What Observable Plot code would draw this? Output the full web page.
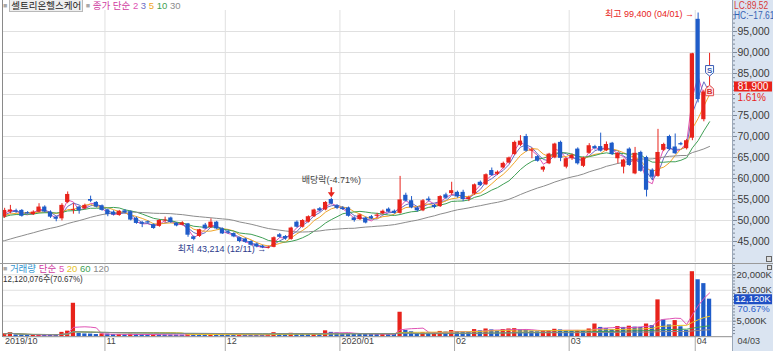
<!DOCTYPE html>
<html>
<head>
<meta charset="utf-8">
<script src="https://cdn.jsdelivr.net/npm/d3@7"></script>
<script src="https://cdn.jsdelivr.net/npm/@observablehq/plot@0.6"></script>
<style>
html,body{margin:0;padding:0;background:#fff;}
#wrap{position:relative;width:773px;height:351px;overflow:hidden;font-family:"Liberation Sans",Arial,sans-serif;font-size:10px;color:#333;}
#wrap svg{position:absolute;left:0;}
.abs{position:absolute;white-space:nowrap;line-height:1;}
.kr{font-family:"Liberation Sans","Noto Sans CJK KR",sans-serif;}
.nar{transform:scaleX(0.84);transform-origin:0 0;}
</style>
</head>
<body>
<div id="wrap">
  <div class="abs" style="left:732px;top:0;width:41px;height:351px;background:#dae4f1;border-left:1px solid #9aa7b8;box-sizing:border-box;"></div>
</div>
<script>
// ---------- data ----------
const stockName = "셀트리온헬스케어";
const dates = [
"2019-10-07","2019-10-08","2019-10-10","2019-10-11","2019-10-14","2019-10-15","2019-10-16","2019-10-17","2019-10-18","2019-10-21",
"2019-10-22","2019-10-23","2019-10-24","2019-10-25","2019-10-28","2019-10-29","2019-10-30","2019-10-31","2019-11-01","2019-11-04",
"2019-11-05","2019-11-06","2019-11-07","2019-11-08","2019-11-11","2019-11-12","2019-11-13","2019-11-14","2019-11-15","2019-11-18",
"2019-11-19","2019-11-20","2019-11-21","2019-11-22","2019-11-25","2019-11-26","2019-11-27","2019-11-28","2019-11-29","2019-12-02",
"2019-12-03","2019-12-04","2019-12-05","2019-12-06","2019-12-09","2019-12-10","2019-12-11","2019-12-12","2019-12-13","2019-12-16",
"2019-12-17","2019-12-18","2019-12-19","2019-12-20","2019-12-23","2019-12-24","2019-12-26","2019-12-27","2019-12-30","2020-01-02",
"2020-01-03","2020-01-06","2020-01-07","2020-01-08","2020-01-09","2020-01-10","2020-01-13","2020-01-14","2020-01-15","2020-01-16",
"2020-01-17","2020-01-20","2020-01-21","2020-01-22","2020-01-23","2020-01-28","2020-01-29","2020-01-30","2020-01-31","2020-02-03",
"2020-02-04","2020-02-05","2020-02-06","2020-02-07","2020-02-10","2020-02-11","2020-02-12","2020-02-13","2020-02-14","2020-02-17",
"2020-02-18","2020-02-19","2020-02-20","2020-02-21","2020-02-24","2020-02-25","2020-02-26","2020-02-27","2020-02-28","2020-03-02",
"2020-03-03","2020-03-04","2020-03-05","2020-03-06","2020-03-09","2020-03-10","2020-03-11","2020-03-12","2020-03-13","2020-03-16",
"2020-03-17","2020-03-18","2020-03-19","2020-03-20","2020-03-23","2020-03-24","2020-03-25","2020-03-26","2020-03-27","2020-03-30",
"2020-03-31","2020-04-01","2020-04-02","2020-04-03"
];
const opens = [
50800,52000,52300,52400,51900,51400,52000,53200,52000,50800,
50400,54300,52400,53200,52800,55000,54300,53500,52500,52000,
51200,52300,52100,50500,49500,49700,49000,48600,49900,50600,
49300,48900,49200,46100,46200,48900,48300,49600,48000,47300,
46900,45900,45600,45000,44400,43900,43400,43600,46600,46200,
45500,49600,48400,49600,50900,52800,52500,55000,53500,53000,
53000,50600,50200,50600,50900,51000,51600,52700,52200,51700,
56000,54700,53000,52300,55100,53600,53300,56100,56400,56700,
56700,55000,56300,59100,58500,61900,61000,62500,63700,65700,
67900,70000,66500,65200,62000,63500,64900,68600,62700,64700,
67000,62900,66000,67600,67600,66600,68400,64700,62700,67000,
61100,66200,65000,62000,60500,66700,70000,67500,68300,67100,
69600,97900,74000,80800
];
const highs = [
52900,53600,52700,52600,52100,52300,54000,53500,52300,51000,
54000,56800,54000,53400,53900,55800,54500,53700,52700,52300,
52400,52600,52300,50800,49800,49900,49200,50200,50800,50800,
49500,49700,49300,46300,47900,49300,50400,49800,48200,47700,
47100,46000,45800,45200,44600,44100,43900,46100,46900,46400,
48400,49900,50200,51100,52700,53100,54500,55300,53700,53300,
53200,50900,51500,50800,51200,51700,52500,53000,52500,60500,
56500,55700,53300,55000,55600,53800,55900,56500,59100,57000,
57200,55800,58700,59400,61100,62500,61800,63900,65100,68900,
70200,70500,67200,65500,62900,66000,68400,68900,64900,65800,
67300,65100,68300,67900,70800,68700,68600,66200,64600,67300,
67400,66500,65300,62300,71700,68400,70300,70600,68600,69300,
89800,99400,81000,89800
];
const lows = [
50500,51600,51700,50800,51500,51200,51800,51800,50500,49700,
49900,54000,51500,51500,52600,54300,53000,52200,50900,51100,
51000,51600,49900,49100,48300,49200,47900,48400,49400,49300,
48500,48700,46000,45200,46000,47900,48100,47800,46700,46700,
45900,44700,44600,43900,43500,43300,43214,43500,45800,45300,
45300,48200,48200,49400,50700,52000,52300,53700,52600,52400,
50800,49600,50000,49200,50200,50500,51400,51800,51500,51500,
54400,52800,52000,52100,54400,52800,53100,55000,56000,55300,
54500,54500,56000,58100,58300,60500,60700,62300,63500,65500,
67600,66300,64700,63900,61500,63300,64700,64000,62300,64300,
63200,62600,65800,66800,66300,66400,65500,63500,61100,62900,
60900,61500,55600,59500,60300,66400,66600,65700,67800,66800,
69000,78000,73500,79500
];
const closes = [
52400,52500,52000,51000,51700,52000,53200,52000,50800,50300,
53600,56200,52600,52300,53600,54600,53200,52400,51400,51300,
52200,51800,50100,49300,49100,49400,48100,50000,50100,49500,
48700,49400,46500,45500,47800,48000,49600,48000,46800,47000,
46100,45000,44800,44100,43700,43500,43600,45900,46000,45600,
48200,48400,50000,50900,52500,52300,54300,53900,52900,52600,
51000,50000,51300,49400,50400,51300,52200,52000,51700,54900,
54600,53000,52300,54700,54700,53100,55700,55300,57100,55600,
55000,55400,58500,58300,60900,60700,61500,63600,64900,68600,
68900,66500,66800,64100,62700,65800,68200,64800,64700,65500,
63500,64900,67800,67100,66500,68100,65700,66000,64400,63100,
66000,61700,57200,60300,66200,68100,66900,65900,68000,69000,
89700,78800,80600,81900
];
// volume in thousands of shares
const volumes = [
950,1300,600,550,480,520,700,620,560,500,
1400,1800,10800,1100,900,850,700,900,850,700,
720,650,800,760,700,600,640,600,560,540,
520,500,950,900,800,760,780,700,650,620,
600,640,600,580,560,540,700,1300,1000,800,
1100,1000,900,850,950,700,1900,1400,1200,1100,
1000,950,900,850,800,780,820,760,700,7900,
2000,1600,1100,1300,1200,1250,1700,1500,2000,1600,
1500,1400,2300,1900,2500,2200,1800,2300,2500,2600,
2200,2100,1800,1600,1900,2000,2400,2200,1900,1800,
2000,1900,2500,4100,3000,2600,2300,3300,3000,3400,
3100,3000,4100,3600,11900,5400,3800,5200,3200,2000,
21000,18400,17150,12120
];
// closes of the sessions before the visible window (feed the moving averages only)
const preCloses = [
40800,40300,40100,40500,41200,41600,41100,41300,41900,42400,
42100,41800,42300,42000,42500,42800,43300,45000,46500,47500,
49000,50500,51200,50800,51500,50900,51300,50600,51000
];
const lastVolumeShares = 12120076;
const priceMA = [2,3,5,10,30];
const priceMAColors = ["#e052b4","#6a6cc4","#f0a62a","#3f9f55","#8c8c8c"];
const volMA = [5,20,60,120];
const volMAColors = ["#e052b4","#e6c229","#3f9f55","#8c8c8c"];
const exDivDate = "2019-12-27";
const exDivLabel = "배당락(-4.71%)";
const signals = [
  {date:"2020-04-03", type:"S", price:85700},
  {date:"2020-04-03", type:"B", price:80900}
];
const priceTicks = [45000,50000,55000,60000,65000,70000,75000,80000,85000,90000,95000];
const volTicks = [5000,10000,15000,20000];

// ---------- derived ----------
const RED = "#e8231b", BLUE = "#1f5cc9";
const NUMF = "Liberation Sans, Arial, sans-serif";
const KRF = "Liberation Sans, Noto Sans CJK KR, sans-serif";
const rows = dates.map((date,i)=>({i,date,open:opens[i],high:highs[i],low:lows[i],close:closes[i],vol:volumes[i]}));
const byDate = new Map(rows.map(d=>[d.date,d]));
const candleColor = d => d.close >= d.open ? RED : BLUE;
const volColor = d => (d.i === 0 || d.vol > rows[d.i-1].vol) ? RED : BLUE;
const closeSeries = preCloses.map((c,j)=>({i:j-preCloses.length, close:c})).concat(rows.map(d=>({i:d.i, close:d.close})));
const xDomain = [-0.2, 127];
const monthStarts = rows.filter((d,i)=> i>0 && d.date.slice(5,7)!==rows[i-1].date.slice(5,7));
const monthPos = monthStarts.map(d=>d.i-0.5);
const axisLabels = [{x:xDomain[0], label:rows[0].date.slice(0,4)+"/"+rows[0].date.slice(5,7)}]
  .concat(monthStarts.map(d=>({x:d.i-0.5, label: d.date.slice(5,7)==="01" ? d.date.slice(0,4)+"/01" : d.date.slice(5,7)})));
const last = rows[rows.length-1], prev = rows[rows.length-2];
const hiRow = rows.reduce((a,b)=>b.high>a.high?b:a);
const loRow = rows.reduce((a,b)=>b.low<a.low?b:a);
const fmt = d3.format(",");
const md = s => s.slice(5,7)+"/"+s.slice(8,10);
const pct = d3.format(".2f");

const priceH = 263, pTop = 10, pBot = 1, yDom = [40000,100000];
const pxPrice = (priceH-pTop-pBot)/(yDom[1]-yDom[0]);
const volH = 88, vTop = 1, vBot = 14.8, vDom = [0,23330];
const pxVol = (volH-vTop-vBot)/(vDom[1]-vDom[0]);
const keepTick = (t, v, px) => { const d = (v - t)*px; return !(d > -7 && d < 14); };

const rectSym = (w,h) => ({draw(ctx){ctx.rect(-w/2,-h/2,w,h);}});
const shieldDown = {draw(ctx){ctx.moveTo(-4,-5);ctx.lineTo(4,-5);ctx.lineTo(4,2);ctx.lineTo(0,5.5);ctx.lineTo(-4,2);ctx.closePath();}};
const shieldUp = {draw(ctx){ctx.moveTo(0,-5.5);ctx.lineTo(4,-2);ctx.lineTo(4,5);ctx.lineTo(-4,5);ctx.lineTo(-4,-2);ctx.closePath();}};
const downArrow = {draw(ctx){ctx.rect(-0.8,-5,1.6,5.5);ctx.moveTo(-3.5,0);ctx.lineTo(3.5,0);ctx.lineTo(0,5);ctx.closePath();}};

const style = {background:"transparent", fontFamily:NUMF, fontSize:"11px", color:"#3a3a3a", overflow:"visible"};
const exRows = rows.filter(d=>d.date===exDivDate);
const sigS = signals.filter(s=>s.type==="S").map(s=>({...s, i:byDate.get(s.date).i}));
const sigB = signals.filter(s=>s.type==="B").map(s=>({...s, i:byDate.get(s.date).i}));

const pricePlot = Plot.plot({
  width:773, height:priceH, marginLeft:3, marginRight:41, marginTop:pTop, marginBottom:pBot,
  x:{domain:xDomain, axis:null, label:null},
  y:{domain:yDom, axis:null, label:null},
  style,
  marks:[
    Plot.gridY(priceTicks,{stroke:"#e0e0e0",strokeOpacity:1}),
    Plot.gridX(monthPos,{stroke:"#e0e0e0",strokeOpacity:1}),
    Plot.axisY(d3.range(41000,100000,1000),{anchor:"right",label:null,tickSize:2,tickFormat:()=>"",stroke:"#7d8898"}),
    Plot.axisY(priceTicks.filter(t=>keepTick(t,last.close,pxPrice)),{anchor:"right",label:null,tickSize:4,tickPadding:1,tickFormat:fmt,stroke:"#7d8898",fill:"#3a3a3a",fontSize:10.5}),
    ...priceMA.map((k,j)=>Plot.lineY(closeSeries, Plot.windowY({k, anchor:"end"}, {x:"i", y:"close", stroke:priceMAColors[j], strokeWidth:1, clip:true}))),
    Plot.ruleX(rows,{x:"i", y1:"low", y2:"high", stroke:candleColor, strokeWidth:1}),
    Plot.rect(rows,{x1:d=>d.i-0.37, x2:d=>d.i+0.37, y1:"open", y2:"close", fill:candleColor}),
    Plot.text([hiRow],{x:"i", y:"high", dx:-4, dy:1.5, textAnchor:"end", text:d=>`최고 ${fmt(d.high)} (${md(d.date)}) →`, fill:RED, fontFamily:KRF, fontSize:9}),
    Plot.text([loRow],{x:"i", y:"low", dx:-2, textAnchor:"end", text:d=>`최저 ${fmt(d.low)} (${md(d.date)}) →`, fill:"#2b3a8c", fontFamily:KRF, fontSize:9}),
    Plot.text(exRows,{x:"i", y:"high", dy:-18, text:()=>exDivLabel, fill:"#444", fontFamily:KRF, fontSize:9}),
    Plot.dot(exRows,{x:"i", y:"high", dy:-6, symbol:downArrow, fill:RED, stroke:"none"}),
    Plot.dot(sigS,{x:"i", y:"price", symbol:shieldDown, fill:"white", stroke:"#3a5bb5", strokeWidth:1}),
    Plot.text(sigS,{x:"i", y:"price", dy:-0.5, text:"type", fill:"#3a5bb5", fontSize:8, fontWeight:"bold"}),
    Plot.dot(sigB,{x:"i", y:"price", symbol:shieldUp, fill:"#fde3e3", stroke:"#e05050", strokeWidth:1}),
    Plot.text(sigB,{x:"i", y:"price", dy:0.5, text:"type", fill:"#d83030", fontSize:8, fontWeight:"bold"}),
    Plot.dot([last],{y:"close", frameAnchor:"right", dx:20.5, symbol:rectSym(38,10), fill:RED, stroke:"none"}),
    Plot.text([last],{y:"close", frameAnchor:"right", dx:20.5, textAnchor:"middle", text:d=>fmt(d.close), fill:"white", fontSize:10}),
    Plot.text([last],{y:"close", frameAnchor:"right", dx:5, dy:11, textAnchor:"start", text:d=>pct((d.close/prev.close-1)*100)+"%", fill:RED, fontSize:10})
  ]
});
pricePlot.style.top = "0px";

const volPlot = Plot.plot({
  width:773, height:volH, marginLeft:3, marginRight:41, marginTop:vTop, marginBottom:vBot,
  x:{domain:xDomain, axis:null, label:null},
  y:{domain:vDom, axis:null, label:null},
  style,
  marks:[
    Plot.gridY(volTicks,{stroke:"#e0e0e0",strokeOpacity:1}),
    Plot.gridX(monthPos,{stroke:"#e0e0e0",strokeOpacity:1}),
    Plot.ruleX(monthPos,{insetTop:volH-vTop-vBot-1, insetBottom:-vBot, stroke:"#a8a8a8"}),
    Plot.axisY(d3.range(1000,23001,1000),{anchor:"right",label:null,tickSize:2,tickFormat:()=>"",stroke:"#7d8898"}),
    Plot.axisY(volTicks.filter(t=>keepTick(t,last.vol,pxVol)),{anchor:"right",label:null,tickSize:3,tickPadding:1,tickFormat:d=>fmt(d)+"K",stroke:"#7d8898",fill:"#3a3a3a",fontSize:9.5}),
    Plot.rect(rows,{x1:d=>d.i-0.37, x2:d=>d.i+0.37, y1:0, y2:"vol", fill:volColor}),
    ...volMA.map((k,j)=>Plot.lineY(rows, Plot.windowY({k, anchor:"end"}, {x:"i", y:"vol", stroke:volMAColors[j], strokeWidth:1}))),
    Plot.ruleY([0],{stroke:"#8f8f8f"}),
    Plot.text(axisLabels,{x:"x", frameAnchor:"bottom", dy:7.5, dx:1.5, textAnchor:"start", text:"label", fill:"#444", fontSize:9}),
    Plot.text([last],{frameAnchor:"bottom-right", dx:5, dy:7.5, textAnchor:"start", text:d=>md(d.date), fill:"#444", fontSize:9}),
    Plot.dot([last],{y:"vol", frameAnchor:"right", dx:20.5, symbol:rectSym(38,10), fill:"#1f4fc4", stroke:"none"}),
    Plot.text([last],{y:"vol", frameAnchor:"right", dx:20.5, textAnchor:"middle", text:d=>fmt(d.vol)+"K", fill:"white", fontSize:9.5}),
    Plot.text([last],{y:"vol", frameAnchor:"right", dx:5, dy:10, textAnchor:"start", text:d=>pct(d.vol/prev.vol*100)+"%", fill:"#2b5cc8", fontSize:9.5})
  ]
});
volPlot.style.top = priceH + "px";

const wrap = document.getElementById("wrap");
wrap.appendChild(pricePlot);
wrap.appendChild(volPlot);

// frame lines and small panel icons
const addDiv = (css, html="", cls="abs") => { const d = document.createElement("div"); d.className = cls; d.style.cssText = css; d.innerHTML = html; wrap.appendChild(d); return d; };
addDiv("left:2px;top:0;width:1px;height:337px;background:#8a8a8a;");
addDiv("left:0;top:263px;width:773px;height:1px;background:#9a9a9a;");
addDiv("left:766px;top:256px;width:4px;height:4px;border:1px solid #666;background:#ddd;");
addDiv("left:767px;top:265px;width:3px;height:3px;border:1px solid #666;background:#ddd;");

// legends
const sq = '<span style="color:#a9a9a9;font-size:7px;vertical-align:1px">■</span>';
const maSpans = (ks, cols) => ks.map((k,j)=>`<span style="color:${cols[j]}">${k}</span>`).join(" ");
addDiv("left:3px;top:1px;font-size:9.5px;",
  `${sq}<span style="border:1px solid #b9b9b9;background:#efefef;color:#222;padding:0 1px;margin-left:2px">${stockName}</span> ${sq} <span style="color:#cf3c9f">종가 단순</span> ${maSpans(priceMA, priceMAColors)}`, "abs kr");
addDiv("left:3px;top:264px;font-size:9.5px;",
  `${sq} <span style="color:#3596d0">거래량</span> <span style="color:#cf3c9f">단순</span> ${maSpans(volMA, volMAColors)}`, "abs kr");
addDiv("left:3px;top:274px;font-size:9.5px;color:#333;",
  `${fmt(lastVolumeShares)}주(${pct(last.vol/prev.vol*100)}%)`, "abs kr nar");
addDiv("left:734px;top:1px;font-size:10px;color:#d83a3a;",
  `LC:${pct((last.close/loRow.low-1)*100)}`, "abs kr nar");
addDiv("left:734px;top:11px;font-size:10px;color:#3461b4;",
  `HC:${pct((last.close/hiRow.high-1)*100)}`, "abs kr nar");
</script>
</body>
</html>
